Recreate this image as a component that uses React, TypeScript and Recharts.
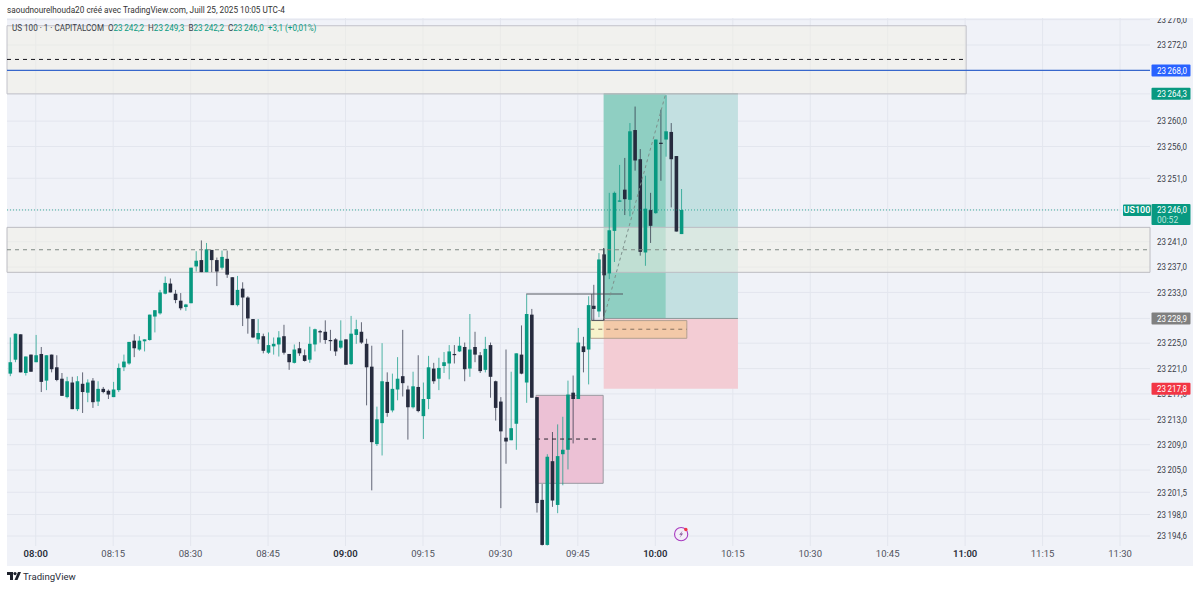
import React from "react";
import { ComposedChart, Bar, XAxis, YAxis, CartesianGrid, ReferenceArea, ReferenceLine, ReferenceDot } from "recharts";

const opens = [23220.2,23222.4,23226.4,23220.3,23223.2,23222.0,23223.3,23219.1,23223.2,23221.2,23219.4,23216.5,23218.8,23214.6,23218.6,23217.2,23219.1,23215.8,23217.8,23217.5,23216.5,23217.6,23221.2,23221.8,23225.4,23224.0,23225.3,23225.5,23229.2,23229.7,23232.8,23234.4,23232.8,23231.7,23230.7,23231.3,23237.1,23238.1,23236.2,23239.7,23238.1,23236.9,23238.3,23235.4,23231.0,23233.6,23232.2,23228.8,23225.6,23226.1,23223.5,23224.5,23224.8,23226.1,23223.3,23221.9,23224.2,23223.1,23222.4,23224.8,23226.9,23226.8,23225.5,23225.6,23224.3,23225.6,23221.7,23226.3,23226.8,23224.9,23221.3,23209.1,23212.4,23218.9,23214.4,23217.7,23219.8,23217.7,23214.9,23218.1,23213.5,23216.2,23221.0,23219.4,23221.4,23221.8,23223.3,23223.7,23224.4,23221.0,23224.4,23223.1,23220.8,23224.7,23219.0,23215.8,23210.1,23209.7,23212.3,23223.2,23218.8,23229.5,23216.5,23200.3,23193.2,23206.4,23199.5,23207.5,23208.2,23217.2,23216.2,23224.5,23224.0,23230.9,23230.0,23239.0,23236.0,23242.7,23247.3,23249.2,23247.6,23258.6,23254.0,23239.3,23246.0,23245.5,23256.6,23257.1,23258.3,23254.5,23242.2];
const highs = [23225.9,23226.5,23226.4,23222.9,23223.2,23226.3,23224.4,23223.1,23223.2,23223.1,23220.3,23219.7,23219.7,23219.8,23220.4,23219.3,23219.5,23219.0,23218.1,23217.7,23218.9,23221.8,23223.2,23225.2,23226.4,23226.1,23225.6,23229.5,23230.2,23233.4,23235.5,23235.2,23233.4,23232.9,23231.2,23236.9,23239.5,23241.2,23240.8,23239.7,23238.5,23239.6,23239.6,23235.4,23235.6,23234.6,23232.4,23228.8,23228.8,23226.5,23226.7,23225.9,23226.9,23227.9,23223.3,23224.8,23225.2,23224.0,23227.6,23227.3,23227.1,23228.6,23227.1,23225.8,23228.6,23225.6,23229.3,23228.7,23228.3,23225.7,23224.6,23215.0,23225.0,23220.4,23220.2,23222.8,23227.1,23218.3,23220.5,23223.1,23218.8,23223.0,23221.9,23222.7,23223.6,23224.7,23224.7,23226.0,23225.1,23229.6,23226.8,23223.6,23226.0,23225.1,23219.1,23216.5,23224.0,23220.5,23223.4,23227.8,23232.7,23230.4,23216.5,23202.8,23207.5,23211.0,23212.2,23213.4,23219.1,23219.9,23227.4,23226.0,23232.4,23234.2,23239.2,23239.9,23248.7,23248.9,23253.1,23254.2,23259.7,23262.3,23255.6,23251.4,23248.7,23257.1,23261.8,23264.1,23259.7,23254.5,23249.3];
const lows = [23219.8,23222.0,23220.4,23219.9,23220.5,23222.0,23217.3,23217.6,23220.4,23219.0,23216.7,23216.3,23214.6,23214.3,23214.0,23215.7,23214.8,23215.1,23217.1,23216.2,23216.5,23217.3,23220.6,23221.6,23222.8,23223.8,23223.7,23225.4,23226.7,23229.5,23232.7,23233.0,23231.3,23230.2,23230.1,23231.3,23236.3,23236.2,23236.2,23236.2,23234.0,23236.6,23235.3,23231.0,23230.8,23227.7,23226.5,23225.8,23224.9,23223.4,23223.3,23223.2,23222.9,23223.2,23220.8,23221.8,23223.0,23222.1,23221.9,23223.7,23225.1,23224.9,23223.8,23223.0,23224.1,23221.6,23221.6,23224.9,23224.9,23215.2,23201.8,23208.8,23207.3,23213.4,23214.1,23216.0,23216.6,23209.8,23214.7,23214.1,23209.9,23214.6,23218.6,23217.6,23220.3,23219.3,23221.8,23223.6,23219.0,23219.7,23222.0,23220.3,23220.4,23216.4,23212.8,23199.0,23206.0,23209.7,23208.2,23220.1,23215.6,23216.4,23198.3,23193.1,23193.1,23199.2,23198.2,23202.6,23205.1,23209.2,23216.2,23220.4,23218.5,23228.6,23229.1,23228.6,23235.1,23237.8,23247.3,23245.2,23245.0,23252.2,23238.8,23237.2,23240.8,23245.4,23250.6,23254.4,23246.4,23242.6,23242.2];
const closes = [23222.0,23226.5,23220.4,23222.9,23220.5,23223.1,23218.9,23223.1,23220.9,23219.2,23216.7,23219.0,23214.6,23219.0,23217.3,23218.8,23215.7,23217.8,23217.3,23216.9,23217.7,23221.1,23222.1,23225.2,23224.2,23225.4,23225.6,23229.5,23230.2,23233.0,23234.5,23233.0,23231.8,23230.5,23231.1,23236.9,23238.0,23236.2,23239.8,23238.1,23236.3,23238.6,23235.8,23231.0,23233.4,23232.2,23228.9,23225.9,23226.6,23223.8,23224.7,23224.9,23225.9,23223.5,23222.0,23224.0,23223.4,23222.2,23224.9,23227.2,23226.7,23225.5,23225.4,23223.7,23225.4,23221.6,23226.5,23227.2,23225.1,23221.2,23209.4,23213.0,23219.0,23214.0,23217.8,23219.4,23218.7,23214.9,23218.2,23214.3,23216.2,23221.2,23219.0,23221.1,23222.0,23223.7,23223.2,23224.6,23220.9,23224.0,23223.2,23220.6,23224.1,23219.7,23214.8,23211.1,23209.5,23211.6,23223.4,23220.2,23229.6,23216.4,23199.8,23193.2,23207.1,23200.2,23207.2,23208.2,23216.9,23216.2,23225.1,23223.6,23231.0,23230.4,23238.2,23235.7,23242.8,23248.7,23247.5,23247.7,23258.4,23253.8,23239.4,23246.2,23243.5,23257.1,23256.4,23258.4,23254.0,23242.6,23246.0];
const firstBarMinute = -5;
const candles = opens.map((open, i) => ({ minute: firstBarMinute + i, open, high: highs[i], low: lows[i], close: closes[i] }));

const timeTicks = [0,15,30,45,60,75,90,105,120,135,150,165,180,195,210];
const timeLabels = ["08:00","08:15","08:30","08:45","09:00","09:15","09:30","09:45","10:00","10:15","10:30","10:45","11:00","11:15","11:30"];
const gridPrices = [23276,23272,23268,23264.3,23260,23256,23251,23246,23241,23237,23233,23228.9,23225,23221,23217,23213,23209,23205,23201.5,23198,23194.6];
const plainPrices = [23276,23272,23260,23256,23251,23241,23237,23233,23225,23221,23217,23213,23209,23205,23201.5,23198,23194.6];
const badgeValues = [23268,23264.3,23246,23228.9,23217.8];
const badgeColors = ["#2962ff","#089981","#089981","#808080","#f23645"];
const axisPrices = [...plainPrices, ...badgeValues];

const UP = "#089981";
const DOWN = "#262b3e";
const FONT = "Roboto, sans-serif";

const fmt = (v: number) => {
  const s = v.toFixed(1).replace(".", ",");
  return s.slice(0, 2) + "\u2009" + s.slice(2);
};

function Candle(p: any) {
  const { x, y, width, height, payload } = p;
  const { open, high, low, close } = payload;
  const py = (v: number) => y + ((high - v) / (high - low)) * height;
  const cx = x + width / 2;
  const up = close >= open;
  const col = up ? UP : DOWN;
  const top = py(Math.max(open, close));
  const bot = py(Math.min(open, close));
  return (
    <g>
      <line x1={cx} x2={cx} y1={y} y2={y + height} stroke={col} strokeWidth={1} strokeOpacity={0.7} />
      <rect x={cx - 1.8} y={top} width={3.6} height={Math.max(bot - top, 1.2)} fill={col} />
    </g>
  );
}

function PriceTick(p: any) {
  const { y, payload } = p;
  const v = payload.value;
  const bi = badgeValues.indexOf(v);
  const tx = 1157;
  const label = (fill: string) => (
    <text x={tx} y={y + 3.3} fontSize={9.5} fill={fill} fontFamily={FONT} textLength={30} lengthAdjust="spacingAndGlyphs">{fmt(v)}</text>
  );
  if (bi < 0) return label("#3a3d48");
  const isLast = v === 23246;
  return (
    <g>
      {isLast && <rect x={1123} y={y - 5.5} width={28} height={11.5} rx={1} fill={UP} />}
      {isLast && <text x={1137} y={y + 3.3} fontSize={9} fontWeight={600} fill="#fff" textAnchor="middle" fontFamily={FONT}>US100</text>}
      <rect x={1151.5} y={y - 6} width={39} height={isLast ? 21 : 12} rx={1} fill={badgeColors[bi]} />
      {label("#fff")}
      {isLast && <text x={tx} y={y + 13} fontSize={8.5} fill="#bfe6dd" fontFamily={FONT}>00:52</text>}
    </g>
  );
}

function TimeTick(p: any) {
  const { x, y, payload } = p;
  const i = timeTicks.indexOf(payload.value);
  const bold = payload.value % 60 === 0;
  return (
    <text x={x} y={y} textAnchor="middle" fontSize={9.5} fontWeight={bold ? 600 : 400} fill={bold ? "#2a2e39" : "#50535e"} fontFamily={FONT}>
      {timeLabels[i]}
    </text>
  );
}

function BoltIcon(p: any) {
  const { cx, cy } = p;
  return (
    <g>
      <circle cx={cx} cy={cy} r={6.6} fill="#f3eef8" stroke="#a73ac0" strokeWidth={1.1} />
      <path d={`M${cx + 1.5} ${cy - 3.5} L${cx - 2} ${cy + 0.6} L${cx} ${cy + 0.6} L${cx - 1.5} ${cy + 3.5} L${cx + 2} ${cy - 0.6} L${cx} ${cy - 0.6} Z`} fill="#8a5a9a" />
      <circle cx={cx + 4.7} cy={cy - 4.7} r={1.7} fill="#f23645" />
    </g>
  );
}

const green = "#089981";

export default function App() {
  return (
    <div style={{ position: "absolute", left: 0, top: 0, width: 1200, height: 589, background: "#fff", overflow: "hidden", fontFamily: FONT }}>
      <div style={{ position: "absolute", left: 7, top: 18, width: 1186, height: 548, background: "#f0f2f8" }} />
      <div style={{ position: "absolute", left: 0, top: 0 }}>
        <ComposedChart width={1200} height={589} data={candles} margin={{ left: 7, top: 18, right: 7, bottom: 23 }}>
          <CartesianGrid stroke="#e3e6ee" strokeWidth={1} horizontalValues={gridPrices} verticalValues={timeTicks} />
          <XAxis dataKey="minute" type="number" domain={[-5.56, 215.8]} ticks={timeTicks} interval={0} height={20} tick={<TimeTick />} tickLine={false} axisLine={false} tickMargin={5} allowDataOverflow />
          <YAxis orientation="right" type="number" domain={[23193.03, 23276.26]} ticks={axisPrices} interval={0} width={43} tick={<PriceTick />} tickLine={false} axisLine={false} allowDataOverflow />

          <ReferenceArea x1={110} x2={136} y1={23264.3} y2={23228.9} fill="#c3e0e1" fillOpacity={1} stroke="none" />
          <ReferenceArea x1={110} x2={122} y1={23264.3} y2={23228.9} fill="#8fcfc2" fillOpacity={1} stroke="none" />
          <ReferenceArea x1={110} x2={136} y1={23228.9} y2={23217.8} fill="#f3ccd4" fillOpacity={1} stroke="none" />
          <ReferenceLine segment={[{ x: 110, y: 23264.3 }, { x: 136, y: 23264.3 }]} stroke="#a9b3b3" />
          <ReferenceLine segment={[{ x: 110, y: 23228.9 }, { x: 136, y: 23228.9 }]} stroke="#8a9a9a" />

          <ReferenceArea x1={-5.56} x2={180.2} y1={23275.04} y2={23264.3} fill="#f2efe4" fillOpacity={0.5} stroke="#c2c2ca" strokeWidth={1} />
          <ReferenceArea x1={-5.56} x2={215.8} y1={23243.26} y2={23236.17} fill="#f2efe4" fillOpacity={0.5} stroke="#bcbcc2" strokeWidth={1} />
          <ReferenceLine segment={[{ x: -5.56, y: 23269.73 }, { x: 180.2, y: 23269.73 }]} stroke="#15151c" strokeDasharray="4 4" />
          <ReferenceLine segment={[{ x: -5.56, y: 23239.73 }, { x: 215.8, y: 23239.73 }]} stroke="#7f8a84" strokeDasharray="4 4" />
          <ReferenceLine y={23268} stroke="#3767cc" strokeWidth={1.2} />
          <ReferenceLine segment={[{ x: -5.56, y: 23246 }, { x: 210, y: 23246 }]} stroke={green} strokeOpacity={0.75} strokeDasharray="1 2" />

          <ReferenceArea x1={96.9} x2={109.9} y1={23216.78} y2={23202.91} fill="#ecc1d5" fillOpacity={1} stroke="#9a9aa2" strokeWidth={1} />
          <ReferenceArea x1={107.4} x2={110} y1={23228.56} y2={23225.77} fill="#f7f3cb" fillOpacity={1} stroke="none" />
          <ReferenceArea x1={110} x2={126.1} y1={23228.56} y2={23225.77} fill="#f3c9a8" fillOpacity={1} stroke="none" />
          <ReferenceArea x1={107.4} x2={126.1} y1={23228.56} y2={23225.77} fill="none" stroke="#b3a091" strokeWidth={1} />

          <Bar dataKey={(d: any) => [d.low, d.high]} barSize={4} shape={<Candle />} isAnimationActive={false} />

          <ReferenceLine segment={[{ x: 96.9, y: 23209.89 }, { x: 109.3, y: 23209.89 }]} stroke="#2a2530" strokeDasharray="4 4" />
          <ReferenceLine segment={[{ x: 107.4, y: 23227.2 }, { x: 126.1, y: 23227.2 }]} stroke="#86705f" strokeDasharray="4 4" />
          <ReferenceLine segment={[{ x: 95, y: 23232.75 }, { x: 113.75, y: 23232.75 }]} stroke="#555860" strokeWidth={1.2} />
          <ReferenceLine segment={[{ x: 110, y: 23240 }, { x: 110, y: 23228.6 }]} stroke="#3a3d48" />
          <ReferenceLine segment={[{ x: 107.7, y: 23232.75 }, { x: 107.7, y: 23228.6 }]} stroke="#4a4d58" />
          <ReferenceLine segment={[{ x: 107.7, y: 23228.6 }, { x: 110, y: 23228.6 }]} stroke="#4a4d58" />
          <ReferenceLine segment={[{ x: 110, y: 23228.9 }, { x: 122, y: 23264.3 }]} stroke="#7d8f8b" strokeDasharray="3 3" />
          <ReferenceDot x={125} y={23194.9} r={6} shape={<BoltIcon />} />
        </ComposedChart>
      </div>

      <div style={{ position: "absolute", left: 0, top: 0, width: 1200, height: 18, background: "#fff" }} />
      <div style={{ position: "absolute", left: 7, top: 4, fontSize: 9.2, color: "#333", whiteSpace: "nowrap", transform: "scaleX(0.893)", transformOrigin: "left center" }}>
        saoudnourelhouda20 créé avec TradingView.com, Juill 25, 2025 10:05 UTC-4
      </div>
      <div style={{ position: "absolute", left: 12, top: 22, fontSize: 9.2, color: "#3a3d48", whiteSpace: "nowrap", transform: "scaleX(0.88)", transformOrigin: "left center" }}>
        US 100 · 1 · CAPITALCOM&nbsp;&nbsp;O<span style={{ color: green }}>23{"\u2009"}242,2</span>&nbsp;&nbsp;H<span style={{ color: green }}>23{"\u2009"}249,3</span>&nbsp;&nbsp;B<span style={{ color: green }}>23{"\u2009"}242,2</span>&nbsp;&nbsp;C<span style={{ color: green }}>23{"\u2009"}246,0</span>&nbsp;&nbsp;<span style={{ color: green }}>+3,1 (+0,01%)</span>
      </div>
      <svg style={{ position: "absolute", left: 7, top: 572 }} width={14} height={9} viewBox="0 0 14 9">
        <path d="M0 0H6V8H3V3H0Z" fill="#1e222d" />
        <circle cx={8} cy={1.6} r={1.6} fill="#1e222d" />
        <path d="M11 0H14L10.5 8H7.5Z" fill="#1e222d" />
      </svg>
      <div style={{ position: "absolute", left: 23, top: 571, fontSize: 9.6, color: "#2a2e39", whiteSpace: "nowrap" }}>TradingView</div>
    </div>
  );
}
